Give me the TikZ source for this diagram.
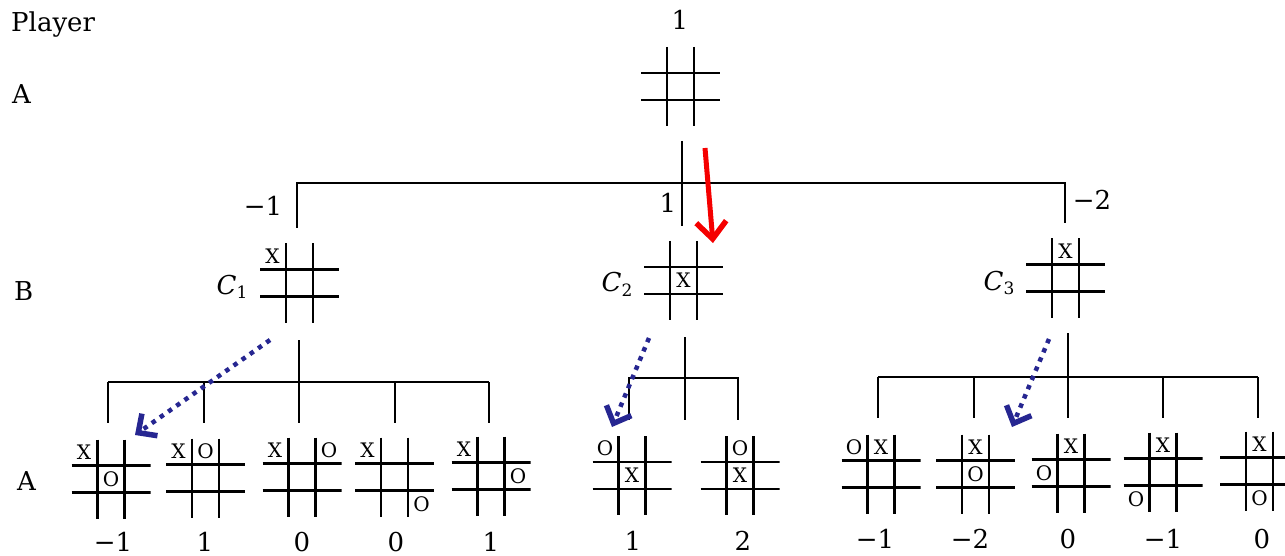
\documentclass[tikz,border=0pt]{standalone}
\usepackage{fontspec}
\setmainfont{DejaVu Serif}
\usetikzlibrary{arrows.meta}
\definecolor{navy}{RGB}{38,38,145}
\definecolor{brightred}{RGB}{245,0,0}
\newcommand\cname[1]{{\itshape C}\raisebox{-5pt}{\fontsize{17}{17}\selectfont #1}}
\begin{document}
\begin{tikzpicture}[x=1pt,y=-1pt,
  gridline/.style={line width=2.2pt,black},
  tree/.style={line width=1.9pt,black},
  board/.style={minimum size=79pt,inner sep=0pt,outer sep=0pt,
    path picture={
      \draw[gridline] ([xshift=-13.5pt]path picture bounding box.north) -- ([xshift=-13.5pt]path picture bounding box.south);
      \draw[gridline] ([xshift=13.5pt]path picture bounding box.north) -- ([xshift=13.5pt]path picture bounding box.south);
      \draw[gridline] ([yshift=-13.5pt]path picture bounding box.west) -- ([yshift=-13.5pt]path picture bounding box.east);
      \draw[gridline] ([yshift=13.5pt]path picture bounding box.west) -- ([yshift=13.5pt]path picture bounding box.east);
    }},
  mk/.style={font=\fontsize{20}{20}\selectfont,inner sep=0pt},
  lbl/.style={font=\fontsize{26}{28}\selectfont,inner sep=0pt},
  val/.style={font=\fontsize{26}{28}\selectfont,inner sep=0pt,anchor=base},
  bluearrow/.style={navy,line width=4.5pt,dash pattern=on 4.5pt off 5.5pt,
    -{Straight Barb[length=14pt,width=27pt,line width=5.5pt]}},
  redarrow/.style={brightred,line width=5pt,
    -{Straight Barb[length=17pt,width=30pt,line width=5.5pt]}}
]
\useasboundingbox (0,0) rectangle (1285,556);
\clip (0,0) rectangle (1285,556);

\newcommand\bd[3]{\node[board] (#1) at (#2,#3) {};}
\newcommand\mk[4]{\path (#1) ++(#2,#3) node[mk] {#4};}

% left labels
\node[lbl,anchor=base west] (lplayer) at (11,32) {Player};
\node[lbl,anchor=base west] (lA1) at (12,104) {A};
\node[lbl,anchor=base west] (lB) at (14,300) {B};
\node[lbl,anchor=base west] (lA2) at (17,490) {A};

% root
\node[val] (vroot) at (680,30) {1};
\bd{root}{680.5}{86.5}
\coordinate (rt) at (682,141);
\coordinate (rb) at (682,226);
\draw[tree] (rt) -- (rb);
\coordinate (bL0) at (297,228);
\coordinate (bL1) at (297,183);
\coordinate (bR1) at (1065,183);
\coordinate (bR0) at (1065,223);
\draw[tree] (bL0) -- (bL1) -- (bR1) -- (bR0);
\node[val] (vc1) at (263,216) {−1};
\node[val] (vc2) at (668,213) {1};
\node[val] (vc3) at (1092,210) {−2};

% second level boards
\bd{c1}{299.5}{283}
\mk{c1}{-27}{-27}{X}
\node[lbl,anchor=base] (lc1) at (232,294) {\cname{1}};
\bd{c2}{683.5}{280.5}
\mk{c2}{0}{0}{X}
\node[lbl,anchor=base] (lc2) at (617,291) {\cname{2}};
\bd{c3}{1065.5}{278}
\mk{c3}{0}{-27}{X}
\node[lbl,anchor=base] (lc3) at (999,290) {\cname{3}};

% red arrow
\coordinate (ra0) at (705,148);
\coordinate (ra1) at (713,243);
\draw[redarrow] (ra0) -- (ra1);

% C1 subtree
\coordinate (s1t) at (299,340);
\coordinate (s1b) at (299,423);
\draw[tree] (s1t) -- (s1b);
\coordinate (h1L) at (108,382);
\coordinate (h1R) at (489,382);
\draw[tree] (h1L) -- (h1R);
\foreach \x [count=\i] in {108,204,299,395,489}{
  \coordinate (p1\i) at (\x,382);
  \coordinate (q1\i) at (\x,423);
  \draw[tree] (p1\i) -- (q1\i);
}
\bd{a1}{111}{479}
\mk{a1}{-27}{-27}{X}\mk{a1}{0}{0}{O}
\bd{a2}{205.5}{478}
\mk{a2}{-27}{-27}{X}\mk{a2}{0}{-27}{O}
\bd{a3}{302}{477}
\mk{a3}{-27}{-27}{X}\mk{a3}{27}{-27}{O}
\bd{a4}{394.5}{477}
\mk{a4}{-27}{-27}{X}\mk{a4}{27}{27}{O}
\bd{a5}{491}{476}
\mk{a5}{-27}{-27}{X}\mk{a5}{27}{0}{O}
\node[val] (va1) at (113,551) {−1};
\node[val] (va2) at (205,551) {1};
\node[val] (va3) at (302,551) {0};
\node[val] (va4) at (396,551) {0};
\node[val] (va5) at (491,551) {1};

% C2 subtree
\coordinate (s2t) at (685,337);
\coordinate (s2b) at (685,420);
\draw[tree] (s2t) -- (s2b);
\coordinate (h2L0) at (629,420);
\coordinate (h2L) at (629,378);
\coordinate (h2R) at (738,378);
\coordinate (h2R0) at (738,420);
\draw[tree] (h2L0) -- (h2L) -- (h2R) -- (h2R0);
\bd{b1}{632}{475.5}
\mk{b1}{-27}{-27}{O}\mk{b1}{0}{0}{X}
\bd{b2}{740}{475.5}
\mk{b2}{0}{-27}{O}\mk{b2}{0}{0}{X}
\node[val] (vb1) at (633,550) {1};
\node[val] (vb2) at (743,550) {2};

% C3 subtree
\coordinate (s3t) at (1068,333);
\coordinate (s3b) at (1068,417);
\draw[tree] (s3t) -- (s3b);
\coordinate (h3L) at (878,377);
\coordinate (h3R) at (1258,377);
\draw[tree] (h3L) -- (h3R);
\foreach \x [count=\i] in {878,974,1068,1163,1258}{
  \coordinate (p3\i) at (\x,377);
  \coordinate (q3\i) at (\x,418);
  \draw[tree] (p3\i) -- (q3\i);
}
\bd{d1}{881}{474}
\mk{d1}{-27}{-27}{O}\mk{d1}{0}{-27}{X}
\bd{d2}{975.5}{474}
\mk{d2}{0}{-27}{X}\mk{d2}{0}{0}{O}
\bd{d3}{1071}{473}
\mk{d3}{0}{-27}{X}\mk{d3}{-27}{0}{O}
\bd{d4}{1163}{472}
\mk{d4}{0}{-27}{X}\mk{d4}{-27}{27}{O}
\bd{d5}{1259.5}{471}
\mk{d5}{0}{-27}{X}\mk{d5}{0}{27}{O}
\node[val] (vd1) at (875,548) {−1};
\node[val] (vd2) at (970,548) {−2};
\node[val] (vd3) at (1068,548) {0};
\node[val] (vd4) at (1163,548) {−1};
\node[val] (vd5) at (1262,548) {0};

% blue dotted arrows
\coordinate (u1) at (270,340);
\coordinate (w1) at (135,435);
\draw[bluearrow] (u1) -- (w1);
\coordinate (u2) at (649,338);
\coordinate (w2) at (612,427);
\draw[bluearrow] (u2) -- (w2);
\coordinate (u3) at (1049,339);
\coordinate (w3) at (1012,427);
\draw[bluearrow] (u3) -- (w3);
\end{tikzpicture}
\end{document}
